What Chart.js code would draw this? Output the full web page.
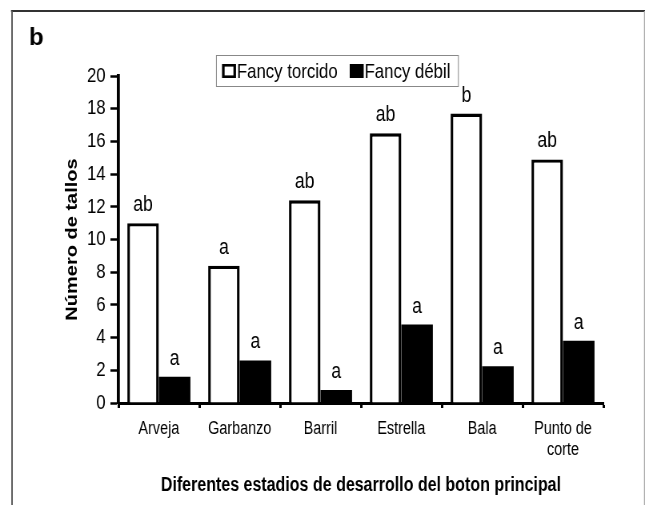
<!DOCTYPE html>
<html><head><meta charset="utf-8">
<script src="https://cdn.jsdelivr.net/npm/chart.js@4/dist/chart.umd.min.js"></script>
<style>html,body{margin:0;padding:0;background:#fff;overflow:hidden}#wrap{position:relative;width:645px;height:505px}</style>
</head><body><div id="wrap"><canvas id="c" width="806" height="505" style="width:645px;height:505px"></canvas></div>
<script>
const categories = ['Arveja', 'Garbanzo', 'Barril', 'Estrella', 'Bala', ['Punto de', 'corte']];
const seriesNames = ['Fancy torcido', 'Fancy débil'];
const torcido = [11, 8.4, 12.4, 16.5, 17.7, 14.9];
const debil = [1.6, 2.6, 0.8, 4.8, 2.25, 3.8];
const torcidoLetters = ['ab', 'a', 'ab', 'ab', 'b', 'ab'];
const debilLetters = ['a', 'a', 'a', 'a', 'a', 'a'];
const yMin = 0, yMax = 20, yStep = 2;
const panelLabel = 'b';
const xTitle = 'Diferentes estadios de desarrollo del boton principal';
const yTitle = 'Número de tallos';

// canvas is drawn 1.25x wider and shown condensed to 645px (narrow type look)
const SX = 806 / 645;
const FONT = '"Liberation Sans", Arial, Helvetica, sans-serif';
const letterSets = [torcidoLetters, debilLetters];

const framePlugin = {
  id: 'frame',
  beforeDraw(chart) {
    const ctx = chart.ctx;
    ctx.save();
    ctx.fillStyle = '#fff';
    ctx.fillRect(0, 0, chart.width, chart.height);
    ctx.strokeStyle = '#333'; ctx.lineWidth = 2;
    ctx.beginPath(); ctx.moveTo(11 * SX, 11); ctx.lineTo(chart.width, 11); ctx.stroke();
    ctx.strokeStyle = '#555'; ctx.lineWidth = 1.5 * SX;
    ctx.beginPath(); ctx.moveTo(12 * SX, 11); ctx.lineTo(12 * SX, 505); ctx.stroke();
    ctx.strokeStyle = '#aaa'; ctx.lineWidth = 1 * SX;
    ctx.beginPath(); ctx.moveTo(644.5 * SX, 11); ctx.lineTo(644.5 * SX, 505); ctx.stroke();
    ctx.restore();
  },
  afterDraw(chart) {
    const ctx = chart.ctx;
    ctx.save();
    // panel label (drawn unscaled, i.e. not condensed)
    ctx.save();
    ctx.scale(SX, 1);
    ctx.fillStyle = '#000';
    ctx.font = 'bold 24px ' + FONT;
    ctx.textBaseline = 'alphabetic';
    ctx.textAlign = 'left';
    ctx.fillText(panelLabel, 29, 45);
    ctx.restore();
    // legend
    const bx = 216 * SX, by = 55, bw = 242 * SX, bh = 31;
    ctx.strokeStyle = '#888'; ctx.lineWidth = 1;
    ctx.strokeRect(bx + 0.5, by + 0.5, bw, bh);
    ctx.font = '21px ' + FONT;
    ctx.textBaseline = 'middle';
    let x = bx + 6 * SX;
    const cy = by + bh / 2 + 0.5;
    const sw = 14 * SX, sh = 14;
    chart.data.datasets.forEach((ds, i) => {
      ctx.fillStyle = '#000'; ctx.fillRect(x, cy - sh / 2, sw, sh);
      if (i === 0) {
        ctx.fillStyle = '#fff';
        ctx.fillRect(x + 2.6 * SX, cy - sh / 2 + 2.6, sw - 5.2 * SX, sh - 5.2);
      }
      x += sw + 1;
      ctx.fillStyle = '#000';
      ctx.fillText(ds.label, x, cy + 1);
      x += ctx.measureText(ds.label).width + 12 * SX;
    });
    ctx.restore();
  }
};

const lettersPlugin = {
  id: 'letters',
  afterDatasetsDraw(chart) {
    const ctx = chart.ctx;
    ctx.save();
    ctx.fillStyle = '#000';
    ctx.font = '22px ' + FONT;
    ctx.textAlign = 'center';
    ctx.textBaseline = 'alphabetic';
    chart.data.datasets.forEach((ds, i) => {
      const meta = chart.getDatasetMeta(i);
      meta.data.forEach((el, j) => {
        ctx.fillText(letterSets[i][j], el.x, el.y - 12);
      });
    });
    ctx.restore();
  }
};

new Chart(document.getElementById('c'), {
  type: 'bar',
  data: {
    labels: categories,
    datasets: [
      { label: seriesNames[0], data: torcido, backgroundColor: '#fff', borderColor: '#000', borderWidth: 3.4, borderSkipped: 'start' },
      { label: seriesNames[1], data: debil, backgroundColor: '#000', borderColor: '#000', borderWidth: 0 }
    ]
  },
  options: {
    responsive: false,
    animation: false,
    devicePixelRatio: 1,
    layout: { padding: { left: 0, top: 76, right: 52, bottom: 0 } },
    datasets: { bar: { categoryPercentage: 0.78, barPercentage: 1 } },
    plugins: { legend: { display: false }, tooltip: { enabled: false }, title: { display: false } },
    scales: {
      x: {
        grid: { offset: true, drawOnChartArea: false, drawTicks: true, tickLength: 5, tickColor: '#000', tickWidth: 3 },
        border: { display: true, color: '#000', width: 3 },
        ticks: { color: '#000', font: { family: FONT, size: 18 }, padding: 10, maxRotation: 0, autoSkip: false },
        title: { display: true, text: xTitle, color: '#000', font: { family: FONT, size: 20, weight: 'bold' }, padding: { top: 0, bottom: 8 } },
        afterFit(s) { s.height = 102; }
      },
      y: {
        min: yMin, max: yMax,
        ticks: { stepSize: yStep, color: '#000', font: { family: FONT, size: 21 }, padding: 6 },
        grid: { drawOnChartArea: false, drawTicks: true, tickLength: 10, tickColor: '#000', tickWidth: 2.5 },
        border: { display: true, color: '#000', width: 3.75 },
        title: { display: true, text: yTitle, color: '#000', font: { family: FONT, size: 20, weight: 'bold' }, padding: { top: 78, bottom: 0 } },
        afterFit(s) { s.width = 148; }
      }
    }
  },
  plugins: [framePlugin, lettersPlugin]
});
</script></body></html>
